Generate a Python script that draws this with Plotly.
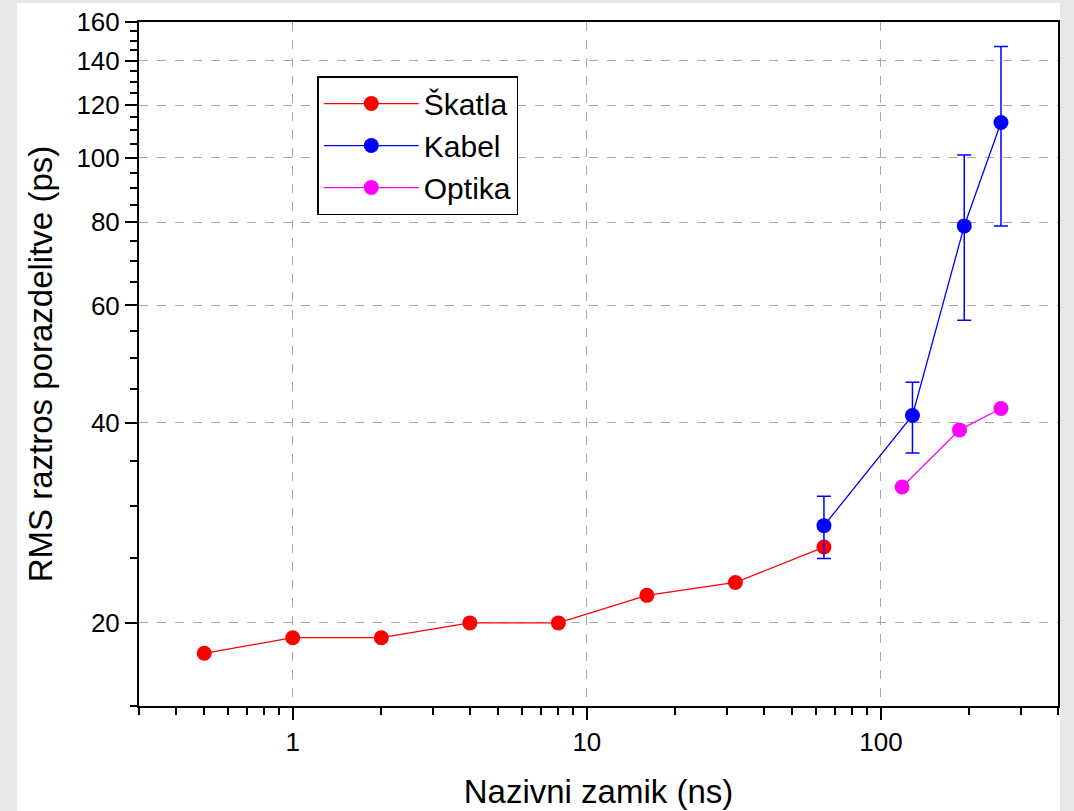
import plotly.graph_objects as go

# Nominal delay (ns) and RMS spread (ps) for each setup
skatla_x = [0.5, 1, 2, 4, 8, 16, 32, 64]
skatla_y = [18, 19, 19, 20, 20, 22, 23, 26]

kabel_x = [64, 128, 192, 256]
kabel_y = [28, 41, 79, 113]
kabel_err = [3, 5, 22, 34]

optika_x = [118, 185, 256]
optika_y = [32, 39, 42]

y_major = [20, 40, 60, 80, 100, 120, 140, 160]
y_minor = [v for v in range(15, 160, 5) if v not in y_major]
x_major = [1, 10, 100]
x_minor = ([0.3, 0.4, 0.5, 0.6, 0.7, 0.8, 0.9]
           + [2, 3, 4, 5, 6, 7, 8, 9]
           + [20, 30, 40, 50, 60, 70, 80, 90]
           + [200, 300, 400])

FONT = "Arial, Liberation Sans, sans-serif"

fig = go.Figure()

fig.add_trace(go.Scatter(
    x=skatla_x, y=skatla_y, name="Škatla", mode="lines+markers",
    line=dict(color="#ff0000", width=1.3),
    marker=dict(color="#ff0000", size=15),
))
fig.add_trace(go.Scatter(
    x=kabel_x, y=kabel_y, name="Kabel", mode="lines+markers",
    line=dict(color="#0000ff", width=1.3),
    marker=dict(color="#0000ff", size=15),
    error_y=dict(type="data", array=kabel_err, color="#0000ff",
                 thickness=1.5, width=7),
))
fig.add_trace(go.Scatter(
    x=optika_x, y=optika_y, name="Optika", mode="lines+markers",
    line=dict(color="#ff00ff", width=1.3),
    marker=dict(color="#ff00ff", size=15),
))

axis_common = dict(
    type="log",
    automargin=False,
    showline=True, linecolor="black", linewidth=2, mirror=True,
    ticks="outside", ticklen=12, tickwidth=2, tickcolor="black",
    showgrid=True, gridcolor="#a8a8a8", gridwidth=1, griddash="dash",
    zeroline=False,
    tickfont=dict(family=FONT, size=26, color="black"),
)

fig.update_xaxes(
    **axis_common,
    range=[-0.5229, 2.6021],
    tickmode="array", tickvals=x_major, ticktext=["1", "10", "100"],
    minor=dict(tickmode="array", tickvals=x_minor, ticks="outside",
               ticklen=7, tickwidth=2, tickcolor="black", showgrid=False),
    title=dict(text="Nazivni zamik (ns)", standoff=24,
               font=dict(family=FONT, size=33, color="black")),
)
fig.update_yaxes(
    **axis_common,
    range=[1.1761, 2.2041],
    tickmode="array", tickvals=y_major, ticktext=[str(v) for v in y_major],
    minor=dict(tickmode="array", tickvals=y_minor, ticks="outside",
               ticklen=7, tickwidth=2, tickcolor="black", showgrid=False),
    title=dict(text="RMS raztros porazdelitve (ps)", standoff=14,
               font=dict(family=FONT, size=33, color="black")),
)

fig.update_layout(
    width=1074, height=811,
    margin=dict(l=139, r=16, t=22, b=105),
    paper_bgcolor="#e7e6e9",
    plot_bgcolor="white",
    showlegend=True,
    legend=dict(
        x=0.194, y=0.921, xanchor="left", yanchor="top",
        bgcolor="white", bordercolor="black", borderwidth=1.5,
        font=dict(family=FONT, size=30, color="black"),
        itemwidth=95,
        tracegroupgap=0,
    ),
    shapes=[dict(
        type="rect", xref="paper", yref="paper", layer="below",
        x0=-0.1328, x1=1.0022, y0=-0.16, y1=1.0278,
        fillcolor="white", line=dict(width=0),
    )],
    font=dict(family=FONT),
)

fig.write_html("out.html")
